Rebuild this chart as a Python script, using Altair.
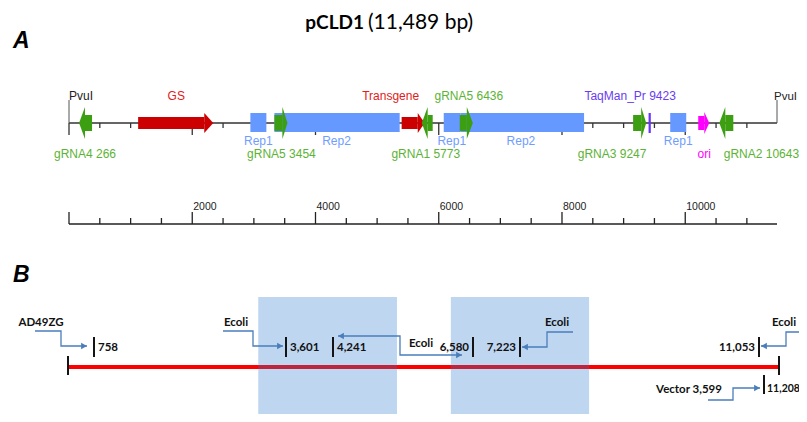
import altair as alt
import pandas as pd
import numpy as np

# ------------------------------------------------------------------ data
TITLE_BOLD = "pCLD1"
TITLE_REST = "(11,489 bp)"
PLASMID_LEN = 11489

# Panel A: block arrows (tail, head base, tip) in bp
ARROW_NAME = ["gRNA4", "GS", "gRNA5", "Transgene", "gRNA1", "gRNA5b", "gRNA3", "ori", "gRNA2"]
ARROW_TAIL = [374, 1122, 3333, 5398, 5902, 6341, 9154, 10211, 10780]
ARROW_BASE = [260, 2195, 3463, 5659, 5821, 6455, 9285, 10309, 10650]
ARROW_TIP = [163, 2341, 3545, 5772, 5724, 6553, 9366, 10390, 10553]
ARROW_KIND = ["grna", "gene", "grna", "gene", "grna", "grna", "grna", "ori", "grna"]

# Panel A: repeat regions
REP_NAME = ["Rep1", "Rep2", "Rep1", "Rep2", "Rep1"]
REP_START = [2943, 3333, 6081, 6358, 9756]
REP_END = [3203, 5366, 6358, 8358, 10016]

PROBE_POS = 9423
SITE_POS = [0, 11489]

# Panel A labels
LABEL_TEXT = ["PvuI", "GS", "Transgene", "gRNA5 6436", "TaqMan_Pr 9423", "PvuI",
              "Rep1", "Rep2", "Rep1", "Rep2", "Rep1",
              "gRNA4 266", "gRNA5 3454", "gRNA1 5773", "gRNA3 9247", "ori", "gRNA2 10643"]
LABEL_POS = [0, 1740, 5220, 6488, 9106, 11489,
             3073, 4341, 6211, 7333, 9886,
             260, 3447, 5789, 8813, 10309, 11236]
LABEL_ROW = ["top"] * 6 + ["rep"] * 5 + ["grna"] * 6
LABEL_KIND = ["site", "gene", "gene", "grna", "probe", "site",
              "rep", "rep", "rep", "rep", "rep",
              "grna", "grna", "grna", "grna", "ori", "grna"]

RULER_LABELS = [2000, 4000, 6000, 8000, 10000]

# Panel B: junction markers
MARK_POS = [1, 758, 3601, 4241, 6580, 7223, 11053, 11208, 11489]
MARK_LABEL = ["", "758", "3,601", "4,241", "6,580", "7,223", "11,053", "11,208", ""]
MARK_ROW = ["mid", "up", "up", "up", "up", "up", "up", "down", "mid"]
MARK_SIDE = ["", "right", "right", "right", "left", "left", "left", "edge", ""]

BOX_START = [3190, 6210]
BOX_END = [5310, 8330]

CALLOUT_TEXT = ["AD49ZG", "Ecoli", "Ecoli", "Ecoli", "Ecoli", "Vector 3,599"]
CALLOUT_TARGET = [758, 3601, 4241, 7223, 11053, 11208]

# ------------------------------------------------------------------ layout / style
W, H = 791, 406
XA = alt.Scale(domain=[0, PLASMID_LEN], range=[61, 769], nice=False, zero=False)
# panel B is a schematic, not to scale: piecewise scale through the junctions
B_PX = [60, 86, 278, 325, 465, 512, 751, 756, 771]
XB = alt.Scale(domain=MARK_POS, range=B_PX, nice=False, zero=False)
XP = alt.Scale(domain=[0, W], range=[0, W], nice=False, zero=False)
YP = alt.Scale(domain=[0, H], range=[0, H], nice=False, zero=False)

FILL = {"grna": "#3c9f12", "gene": "#cc0000", "ori": "#ff00ff"}
GEOM = {"grna": (107, 123, 99, 131), "gene": (109, 121, 105, 125), "ori": (108, 122, 104, 126)}
LINE_Y = 115
LAB_COLOR = {"grna": "#5cb335", "rep": "#6f9dff", "gene": "#e02020",
             "probe": "#6a3cf0", "ori": "#ff00ff", "site": "#222222"}
ROW_Y = {"top": 92, "rep": 137, "grna": 150}
FONT_A = "Liberation Sans"
FONT_B = "Lato"


def xa(f):
    return alt.X(f"{f}:Q", scale=XA, axis=None)


def xb(f):
    return alt.X(f"{f}:Q", scale=XB, axis=None)


def xp(f):
    return alt.X(f"{f}:Q", scale=XP, axis=None)


def yp(f):
    return alt.Y(f"{f}:Q", scale=YP, axis=None)


layers = []

# ---------------- title and panel letters
layers.append(alt.Chart(pd.DataFrame({"t": [TITLE_BOLD]})).mark_text(
    font=FONT_B, fontSize=19, fontWeight="bold", align="right", baseline="alphabetic", color="#000"
).encode(x=alt.value(356), y=alt.value(21), text="t:N"))
layers.append(alt.Chart(pd.DataFrame({"t": [TITLE_REST]})).mark_text(
    font=FONT_B, fontSize=21, align="left", baseline="alphabetic", color="#000"
).encode(x=alt.value(360), y=alt.value(21), text="t:N"))
layers.append(alt.Chart(pd.DataFrame({"t": ["A", "B"], "y": [40, 274]})).mark_text(
    font=FONT_A, fontSize=23, fontWeight="bold", fontStyle="italic", align="left",
    baseline="alphabetic", color="#000"
).encode(x=alt.value(5), y=yp("y"), text="t:N"))

# ---------------- panel A map
line_df = pd.DataFrame({"s": [0], "e": [PLASMID_LEN]})
layers.append(alt.Chart(line_df).mark_rule(color="#333", strokeWidth=1.3).encode(
    x=xa("s"), x2="e:Q", y=alt.value(LINE_Y)))

tick_pos = np.arange(0, 11001, 500)
tick_df = pd.DataFrame({"p": tick_pos})
tick_df["y1"] = LINE_Y
tick_df["y2"] = np.where(tick_pos % 2000 == 0, 127, 120)
layers.append(alt.Chart(tick_df).mark_rule(color="#333", strokeWidth=1.3).encode(
    x=xa("p"), y=yp("y1"), y2="y2:Q"))

site_df = pd.DataFrame({"p": SITE_POS, "y1": 92, "y2": LINE_Y})
layers.append(alt.Chart(site_df).mark_rule(color="#555", strokeWidth=1).encode(
    x=xa("p"), y=yp("y1"), y2="y2:Q"))

rep_df = pd.DataFrame({"n": REP_NAME, "s": REP_START, "e": REP_END, "y1": 105, "y2": 124})
layers.append(alt.Chart(rep_df).mark_rect(color="#6699ff").encode(
    x=xa("s"), x2="e:Q", y=yp("y1"), y2="y2:Q"))

body_rows, head_rows = [], []
for i, (n, t, b, p, k) in enumerate(zip(ARROW_NAME, ARROW_TAIL, ARROW_BASE, ARROW_TIP, ARROW_KIND)):
    bt, bb, ht, hb = GEOM[k]
    body_rows.append({"id": i, "s": t, "e": b, "y1": bt, "y2": bb, "c": FILL[k]})
    head_rows.append({"id": i, "x": b, "y1": ht, "y2": hb, "c": FILL[k]})
    head_rows.append({"id": i, "x": p, "y1": LINE_Y, "y2": LINE_Y, "c": FILL[k]})
body_df = pd.DataFrame(body_rows)
head_df = pd.DataFrame(head_rows)
layers.append(alt.Chart(body_df).mark_rect().encode(
    x=xa("s"), x2="e:Q", y=yp("y1"), y2="y2:Q", color=alt.Color("c:N", scale=None)))
layers.append(alt.Chart(head_df).mark_area(opacity=1).encode(
    x=xa("x"), y=yp("y1"), y2="y2:Q", detail="id:N", color=alt.Color("c:N", scale=None)))

probe_df = pd.DataFrame({"s": [PROBE_POS - 18], "e": [PROBE_POS + 18], "y1": 105, "y2": 125})
layers.append(alt.Chart(probe_df).mark_rect(color="#6633ff").encode(
    x=xa("s"), x2="e:Q", y=yp("y1"), y2="y2:Q"))

lab_df = pd.DataFrame({"t": LABEL_TEXT, "p": LABEL_POS, "row": LABEL_ROW, "k": LABEL_KIND})
lab_df["y"] = lab_df["row"].map(ROW_Y)
lab_df["c"] = lab_df["k"].map(LAB_COLOR)
site_lab = lab_df[lab_df.k == "site"]
groups = [
    ("left", site_lab[site_lab.p == 0], 0, 12),
    ("left", site_lab[site_lab.p > 0], -3, 11.5),   # keep the right-hand PvuI inside the frame
    ("center", lab_df[lab_df.k != "site"], 0, 12),
]
for al, sub, dx, fs in groups:
    layers.append(alt.Chart(sub).mark_text(
        font=FONT_A, fontSize=fs, align=al, dx=dx, baseline="alphabetic"
    ).encode(x=xa("p"), y=yp("y"), text="t:N", color=alt.Color("c:N", scale=None)))

# ---------------- panel A ruler
RULER_Y = 216
layers.append(alt.Chart(line_df).mark_rule(color="#222", strokeWidth=1.3).encode(
    x=xa("s"), x2="e:Q", y=alt.value(RULER_Y)))
rt_df = pd.DataFrame({"p": tick_pos})
rt_df["y1"] = np.where(tick_pos % 2000 == 0, 204, 210)
rt_df["y2"] = RULER_Y
layers.append(alt.Chart(rt_df).mark_rule(color="#222", strokeWidth=1.3).encode(
    x=xa("p"), y=yp("y1"), y2="y2:Q"))
rl_df = pd.DataFrame({"p": RULER_LABELS, "t": [str(v) for v in RULER_LABELS]})
layers.append(alt.Chart(rl_df).mark_text(
    font=FONT_A, fontSize=10.5, align="left", dx=1, baseline="alphabetic", color="#222"
).encode(x=xa("p"), y=alt.value(202), text="t:N"))

# ---------------- panel B
red_df = pd.DataFrame({"s": [MARK_POS[0]], "e": [MARK_POS[-1]]})
layers.append(alt.Chart(red_df).mark_rule(color="#ff0000", strokeWidth=4, strokeCap="butt").encode(
    x=xb("s"), x2="e:Q", y=alt.value(359)))

box_df = pd.DataFrame({"s": BOX_START, "e": BOX_END})
layers.append(alt.Chart(box_df).mark_rect(color="#2a78d0", opacity=0.3).encode(
    x=xb("s"), x2="e:Q", y=alt.value(289), y2=alt.value(H)))

ROW_SPAN = {"mid": (348, 367), "up": (329, 349), "down": (367, 386)}
ROW_BASE = {"up": 343, "down": 384, "mid": 0}
mk_df = pd.DataFrame({"p": MARK_POS, "t": MARK_LABEL, "row": MARK_ROW, "side": MARK_SIDE})
mk_df["y1"] = mk_df["row"].map(lambda r: ROW_SPAN[r][0])
mk_df["y2"] = mk_df["row"].map(lambda r: ROW_SPAN[r][1])
mk_df["yb"] = mk_df["row"].map(ROW_BASE)
layers.append(alt.Chart(mk_df).mark_rule(color="#141414", strokeWidth=2).encode(
    x=xb("p"), y=yp("y1"), y2="y2:Q"))
for side, al, dx, fs in [("right", "left", 4, 11.5), ("left", "right", -4, 11.5), ("edge", "left", 3, 10.5)]:
    sub = mk_df[mk_df.side == side]
    layers.append(alt.Chart(sub).mark_text(
        font=FONT_B, fontSize=fs, fontWeight="bold", align=al, dx=dx, baseline="alphabetic",
        color="#111"
    ).encode(x=xb("p"), y=yp("yb"), text="t:N"))

# callout connectors: offsets (px) relative to the target junction on the B scale
CALLOUT_GEOM = [
    {"pts": [(-59, 323), (-33, 323), (-33, 338), (-7, 338)], "heads": [(-1, "right")], "lab": (-53, 318)},
    {"pts": [(-63, 323), (-33, 323), (-33, 338), (-3, 338)], "heads": [(-1, "right")], "lab": (-50, 318)},
    {"pts": [(5, 328), (67, 328), (67, 347), (129, 347)], "heads": [(0, "left"), (-1, "right")], "lab": (88, 339)},
    {"pts": [(53, 324), (27, 324), (27, 339), (2, 339)], "heads": [(-1, "left")], "lab": (37, 318)},
    {"pts": [(48, 324), (27, 324), (27, 338), (2, 338)], "heads": [(-1, "left")], "lab": (25, 318)},
    {"pts": [(-56, 392), (-31, 392), (-31, 380), (-4, 380)], "heads": [(-1, "right")], "lab": (-75, 385)},
]
line_rows, head_rows_b, text_rows = [], [], []
for ci, (txt, tgt, g) in enumerate(zip(CALLOUT_TEXT, CALLOUT_TARGET, CALLOUT_GEOM)):
    tx = float(np.interp(tgt, MARK_POS, B_PX))
    for j, (dx, y) in enumerate(g["pts"]):
        line_rows.append({"id": ci, "o": j, "x": tx + dx, "y": y})
    for idx, d in g["heads"]:
        dx, y = g["pts"][idx]
        head_rows_b.append({"x": tx + dx + (-3 if d == "right" else 3), "y": y, "d": d})
    text_rows.append({"t": txt, "x": tx + g["lab"][0], "y": g["lab"][1]})
cl_df = pd.DataFrame(line_rows)
ch_df = pd.DataFrame(head_rows_b)
ct_df = pd.DataFrame(text_rows)
layers.append(alt.Chart(cl_df).mark_line(color="#4a7ebb", strokeWidth=1.3).encode(
    x=xp("x"), y=yp("y"), detail="id:N", order="o:Q"))
for d in ["right", "left"]:
    layers.append(alt.Chart(ch_df[ch_df.d == d]).mark_point(
        shape=f"triangle-{d}", filled=True, size=45, color="#4a7ebb", opacity=1
    ).encode(x=xp("x"), y=yp("y")))
layers.append(alt.Chart(ct_df).mark_text(
    font=FONT_B, fontSize=11.5, fontWeight="bold", align="center", baseline="alphabetic", color="#111"
).encode(x=xp("x"), y=yp("y"), text="t:N"))

chart = alt.layer(*layers).resolve_scale(x="independent", y="independent").properties(
    width=W, height=H, padding=0, autosize=alt.AutoSizeParams(type="none")
).configure_view(stroke=None)

chart.save("out.html", embed_options={"renderer": "svg", "actions": False})
